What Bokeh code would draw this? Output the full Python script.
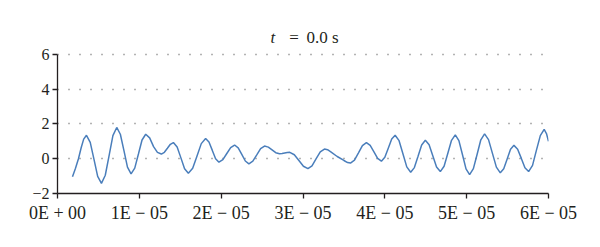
from bokeh.plotting import figure
from bokeh.models import Range1d, FixedTicker, Label
from bokeh.embed import file_html
from bokeh.resources import INLINE

# time in units of 1E-05 s, signal values
t = [0.183, 0.22, 0.256, 0.29, 0.32, 0.354,
     0.400, 0.446, 0.491, 0.537,
     0.584, 0.631, 0.677, 0.724,
     0.768, 0.812, 0.855, 0.899,
     0.944, 0.989, 1.033, 1.078,
     1.126, 1.174, 1.221, 1.269,
     1.306, 1.343, 1.379, 1.416,
     1.462, 1.508, 1.553, 1.599,
     1.652, 1.705, 1.757, 1.810,
     1.851, 1.892, 1.932, 1.973,
     2.021, 2.069, 2.116, 2.164,
     2.208, 2.252, 2.295, 2.339,
     2.387, 2.435, 2.482, 2.530,
     2.576, 2.622, 2.667, 2.713,
     2.745, 2.776, 2.808, 2.839,
     2.894, 2.950, 3.005, 3.060,
     3.110, 3.161, 3.211, 3.262,
     3.300, 3.340, 3.418, 3.500, 3.545, 3.580,
     3.629, 3.678, 3.726, 3.775,
     3.821, 3.867, 3.912, 3.958,
     4.000, 4.042, 4.084, 4.126,
     4.174, 4.221, 4.268, 4.316,
     4.361, 4.406, 4.450, 4.495,
     4.541, 4.587, 4.632, 4.678,
     4.724, 4.770, 4.815, 4.861,
     4.905, 4.949, 4.992, 5.036,
     5.082, 5.128, 5.173, 5.219,
     5.267, 5.315, 5.363, 5.411,
     5.453, 5.495, 5.536, 5.578,
     5.623, 5.668, 5.712, 5.757,
     5.805, 5.852, 5.900, 5.947,
     5.975, 6.000]
signal = [-1.03, -0.55, 0.0, 0.65, 1.13, 1.35,
          0.94, -0.04, -1.01, -1.42,
          -0.95, 0.19, 1.33, 1.80,
          1.41, 0.47, -0.48, -0.87,
          -0.54, 0.27, 1.08, 1.41,
          1.20, 0.70, 0.37, 0.27,
          0.37, 0.60, 0.83, 0.93,
          0.67, 0.05, -0.58, -0.84,
          -0.55, 0.16, 0.87, 1.16,
          0.96, 0.48, 0.0, -0.20,
          -0.05, 0.30, 0.64, 0.79,
          0.63, 0.25, -0.13, -0.29,
          -0.14, 0.22, 0.58, 0.73,
          0.67, 0.51, 0.35, 0.29,
          0.30, 0.33, 0.36, 0.37,
          0.23, -0.10, -0.43, -0.57,
          -0.41, 0.0, 0.40, 0.56,
          0.52, 0.40, 0.13, -0.10, -0.22, -0.25,
          -0.08, 0.34, 0.76, 0.93,
          0.77, 0.40, 0.02, -0.14,
          0.08, 0.61, 1.13, 1.35,
          1.04, 0.29, -0.47, -0.78,
          -0.51, 0.14, 0.79, 1.06,
          0.80, 0.16, -0.48, -0.74,
          -0.43, 0.32, 1.06, 1.37,
          1.04, 0.23, -0.58, -0.91,
          -0.57, 0.26, 1.09, 1.43,
          1.10, 0.31, -0.48, -0.81,
          -0.58, -0.02, 0.54, 0.77,
          0.55, 0.02, -0.52, -0.74,
          -0.38, 0.48, 1.33, 1.69,
          1.45, 1.00]

x_ticks = [0, 1, 2, 3, 4, 5, 6]
x_tick_labels = ["0E + 00", "1E \u2212 05", "2E \u2212 05", "3E \u2212 05",
                 "4E \u2212 05", "5E \u2212 05", "6E \u2212 05"]
y_ticks = [-2, 0, 2, 4, 6]
y_tick_labels = ["\u22122", "0", "2", "4", "6"]
grid_ticks = [0, 2, 4, 6]

FONT = "Liberation Serif"
TXT = "#231f20"

p = figure(width=584, height=239, output_backend="svg", toolbar_location=None,
           x_range=Range1d(0, 6), y_range=Range1d(-2, 8.3),
           min_border_left=57, min_border_right=36,
           min_border_top=14, min_border_bottom=46)
p.outline_line_color = None
p.background_fill_color = "white"
p.border_fill_color = "white"

p.line(t, signal, line_color="#4a7ebb", line_width=1.5)

p.xaxis.ticker = FixedTicker(ticks=x_ticks)
p.xaxis.major_label_overrides = {k: v for k, v in zip(x_ticks, x_tick_labels)}
p.yaxis.ticker = FixedTicker(ticks=y_ticks)
p.yaxis.major_label_overrides = {k: v for k, v in zip(y_ticks, y_tick_labels)}
p.yaxis.bounds = (-2, 6)

for ax in (p.xaxis, p.yaxis):
    ax.axis_line_color = "#231f20"
    ax.axis_line_width = 1.3
    ax.major_tick_line_color = "#231f20"
    ax.major_tick_line_width = 1.3
    ax.major_tick_in = 0
    ax.major_tick_out = 5
    ax.minor_tick_line_color = None
    ax.major_label_text_font = FONT
    ax.major_label_text_color = TXT

p.xaxis.major_label_text_font_size = "18px"
p.xaxis.major_label_standoff = 4
p.yaxis.major_label_text_font_size = "16px"
p.yaxis.major_label_standoff = 3

p.xgrid.grid_line_color = None
p.ygrid.ticker = FixedTicker(ticks=grid_ticks)
p.ygrid.grid_line_color = "#666666"
p.ygrid.grid_line_width = 1.4
p.ygrid.grid_line_dash = "1 10"

title_parts = [("t", "italic", -32.5, "left"), ("=", "normal", -9.0, "center"),
               ("0.0 s", "normal", 3.5, "left")]
for txt, style, dx, align in title_parts:
    p.add_layout(Label(x=3.0, y=6, x_offset=dx, y_offset=17, text=txt,
                       text_font=FONT, text_font_style=style, text_font_size="17px",
                       text_color=TXT, text_align=align, text_baseline="alphabetic"))

open("out.html", "w").write(file_html(p, INLINE))
